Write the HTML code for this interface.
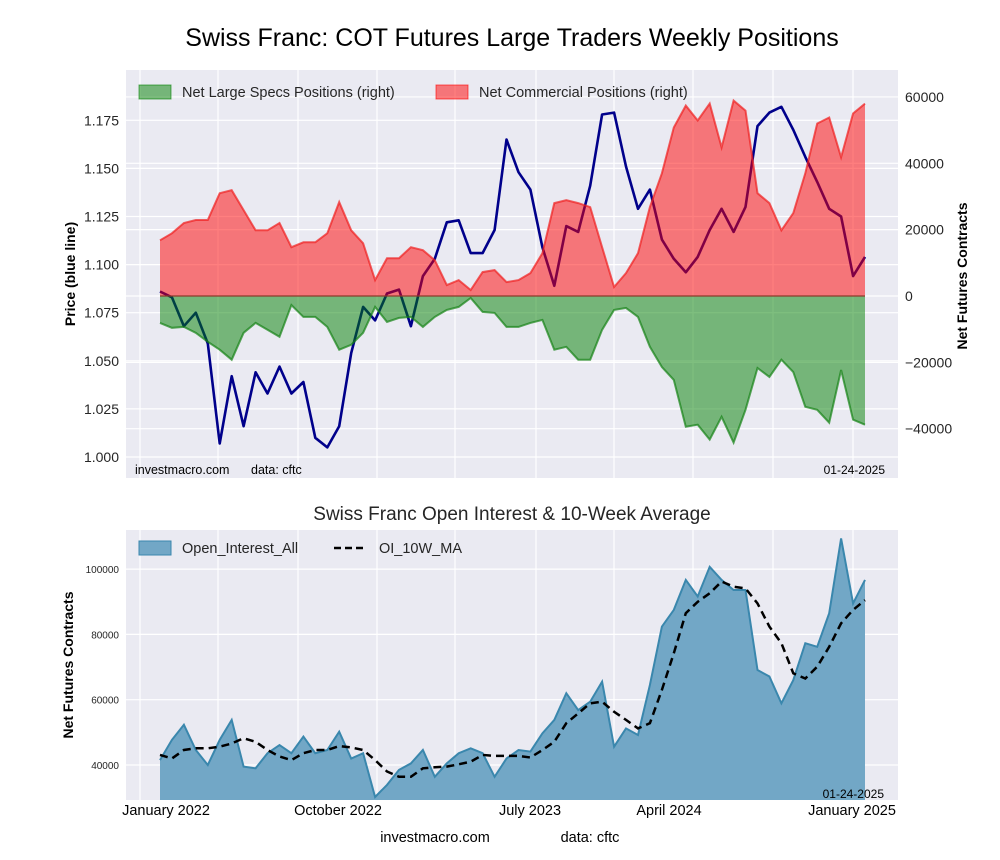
<!DOCTYPE html>
<html><head><meta charset="utf-8"><style>
body{margin:0;background:#fff;}
svg{display:block;font-family:"Liberation Sans",Arial,sans-serif;}
</style></head><body>
<svg id="chart" width="1000" height="860" viewBox="0 0 1000 860">
<rect x="0" y="0" width="1000" height="860" fill="#fff"/>
<text x="512" y="46" font-size="25" text-anchor="middle" fill="#000">Swiss Franc: COT Futures Large Traders Weekly Positions</text>
<rect x="126" y="70" width="772" height="408" fill="#eaeaf2"/>
<g id="topGrid"></g>
<g id="topMarks"></g>
<g id="topAxes"></g>
<g>
<rect x="139" y="85" width="32" height="14" fill="rgba(0,128,0,0.5)" stroke="rgba(0,128,0,0.6)"/>
<text x="182" y="97" font-size="14.5" fill="#262626">Net Large Specs Positions (right)</text>
<rect x="436" y="85" width="32" height="14" fill="rgba(255,0,0,0.5)" stroke="rgba(255,0,0,0.6)"/>
<text x="479" y="97" font-size="14.5" fill="#262626">Net Commercial Positions (right)</text>
</g>
<text x="135" y="474" font-size="12.5" fill="#000">investmacro.com</text>
<text x="251" y="474" font-size="12.5" fill="#000">data: cftc</text>
<text x="885" y="474" font-size="12" fill="#000" text-anchor="end">01-24-2025</text>
<text transform="translate(75,274) rotate(-90)" font-size="14" font-weight="bold" text-anchor="middle">Price (blue line)</text>
<text transform="translate(967,276) rotate(-90)" font-size="14" font-weight="bold" text-anchor="middle">Net Futures Contracts</text>

<text x="512" y="520" font-size="19" text-anchor="middle" fill="#262626">Swiss Franc Open Interest &amp; 10-Week Average</text>
<rect x="126" y="530" width="772" height="270" fill="#eaeaf2"/>
<g id="botGrid"></g>
<g id="botMarks"></g>
<g id="botAxes"></g>
<g>
<rect x="139" y="541" width="32" height="14" fill="#72a7c6" stroke="#3a87ad"/>
<text x="182" y="553" font-size="14.5" fill="#262626">Open_Interest_All</text>
<line x1="334" y1="548" x2="366" y2="548" stroke="#000" stroke-width="2.5" stroke-dasharray="7,4"/>
<text x="379" y="553" font-size="14.5" fill="#262626">OI_10W_MA</text>
</g>
<text x="884" y="798" font-size="12" fill="#000" text-anchor="end">01-24-2025</text>
<text transform="translate(73,665) rotate(-90)" font-size="14" font-weight="bold" text-anchor="middle">Net Futures Contracts</text>
<text x="435" y="842" font-size="14.5" text-anchor="middle">investmacro.com</text>
<text x="590" y="842" font-size="14.5" text-anchor="middle">data: cftc</text>
</svg>
<script>
const price=[1.086,1.083,1.068,1.075,1.059,1.007,1.042,1.016,1.044,1.033,1.047,1.033,1.039,1.010,1.005,1.016,1.054,1.078,1.071,1.085,1.087,1.068,1.094,1.103,1.122,1.123,1.106,1.106,1.118,1.165,
1.148,1.139,1.109,1.089,1.120,1.117,1.141,1.178,1.179,1.151,1.129,1.139,1.113,1.103,1.096,1.104,1.118,1.129,1.117,1.130,1.172,1.179,1.182,1.170,1.156,1.143,1.129,1.125,1.094,1.104];
const commercial=[16800,18900,22000,22900,22900,31000,31900,25900,19800,19800,22000,14700,16200,16200,18900,28300,19800,15900,4800,11400,11400,14700,13800,10800,3300,4800,1800,7200,7800,4200,
4800,6900,12900,28000,28900,28000,26800,14700,2700,6900,12900,26800,37000,50800,57400,52900,58000,44800,58900,55900,31000,28000,19800,25000,37000,52000,53800,41800,55000,58000];
const specs=[-8100,-9600,-9300,-11100,-13800,-16200,-19200,-11100,-8100,-10200,-12300,-2700,-6300,-6300,-9300,-16200,-14700,-11100,-3300,-7800,-6600,-6300,-9300,-6300,-4200,-3300,-600,-4800,-5100,-9300,
-9300,-8100,-7200,-16200,-15300,-19200,-19200,-10200,-4200,-3600,-6300,-15300,-21400,-25300,-39400,-38800,-43300,-36400,-44200,-34300,-21700,-24400,-19200,-22900,-33400,-34300,-38200,-22300,-37300,-38800];
const openInterest=[41500,47700,52300,44600,40000,47700,53800,39500,39000,43600,46100,43600,48700,43600,44600,50200,42000,43600,30200,33900,38500,40500,44600,36400,40500,43600,45100,43600,36400,42000,
44600,44100,49700,53800,62000,56800,59400,65500,45600,51200,49200,64500,82400,87500,96700,91600,100700,96700,93600,93600,69100,67100,58900,66000,77300,76200,86500,109400,89500,96700];
const oiMA=[43100,42000,44600,45100,45100,45600,46600,48200,47100,44600,42600,41500,43600,44600,44600,45800,45400,44600,41500,38000,36400,36400,39000,39300,39500,40200,41000,43100,42800,42800,
42800,42300,44600,47100,52800,55800,58900,59400,56300,53800,51200,52800,63000,74200,86500,90000,92600,96200,94600,94100,89500,82400,77300,68100,66500,70100,76200,83400,87500,90500];
const priceTicks=[1.000,1.025,1.050,1.075,1.100,1.125,1.150,1.175];
const netTicks=[-40000,-20000,0,20000,40000,60000];
const oiTicks=[40000,60000,80000,100000];
const xLabels=["January 2022","October 2022","July 2023","April 2024","January 2025"];

const NS="http://www.w3.org/2000/svg";
function mk(parent,tag,attrs){const e=document.createElementNS(NS,tag);for(const k in attrs)e.setAttribute(k,attrs[k]);document.getElementById(parent).appendChild(e);return e;}
const n=price.length;
const xS=i=>160+i*(865-160)/(n-1);
const yP=v=>457-(v-1.0)/0.025*48.1;
const yN=v=>296-v/20000*66.35;
const yO=v=>765-(v-40000)/20000*65.3;
const vGrid=[140,218,298,377,455,536,614,693,773,853];

vGrid.forEach(x=>{const l=mk('topGrid','line',{x1:x,x2:x,y1:70,y2:478,stroke:'#fff','stroke-width':1.2});

});
priceTicks.forEach(v=>{const y=yP(v);const l=mk('topGrid','line',{x1:126,x2:898,y1:y,y2:y,stroke:'#fff','stroke-width':1.2});


const t=mk('topAxes','text',{x:119,y:y+5,'font-size':14,'text-anchor':'end',fill:'#262626'});t.textContent=v.toFixed(3);

});
netTicks.forEach(v=>{const y=yN(v);const l=mk('topGrid','line',{x1:126,x2:898,y1:y,y2:y,stroke:'#fff','stroke-width':1.2});


const t=mk('topAxes','text',{x:905,y:y+5,'font-size':14,fill:'#262626'});t.textContent=v<0?'\u2212'+Math.abs(v):String(v);

});

let d=price.map((v,i)=>(i?'L':'M')+xS(i).toFixed(1)+','+yP(v).toFixed(1)).join(' ');
const pl=mk('topMarks','path',{d:d,fill:'none',stroke:'#00008b','stroke-width':2.6,'stroke-linejoin':'round'});


function area(arr,col,line,name){
 let p='M'+xS(0)+','+yN(0)+' '+arr.map((v,i)=>'L'+xS(i).toFixed(1)+','+yN(v).toFixed(1)).join(' ')+' L'+xS(n-1)+','+yN(0)+'Z';
 const a=mk('topMarks','path',{d:p,fill:col,stroke:'none'});
 
 
 const l=mk('topMarks','path',{d:arr.map((v,i)=>(i?'L':'M')+xS(i).toFixed(1)+','+yN(v).toFixed(1)).join(' '),fill:'none',stroke:line,'stroke-width':2});
 
 
}
area(commercial,'rgba(255,0,0,0.5)','rgba(240,30,30,0.7)','commercial');
area(specs,'rgba(0,128,0,0.5)','rgba(20,130,20,0.7)','specs');
const z=mk('topMarks','line',{x1:xS(0),x2:xS(n-1),y1:yN(0),y2:yN(0),stroke:'#8b3a2a','stroke-width':1.3});



vGrid.forEach(x=>{const l=mk('botGrid','line',{x1:x,x2:x,y1:530,y2:800,stroke:'#fff','stroke-width':1.2});

});
oiTicks.forEach(v=>{const y=yO(v);const l=mk('botGrid','line',{x1:126,x2:898,y1:y,y2:y,stroke:'#fff','stroke-width':1.2});


const t=mk('botAxes','text',{x:119,y:y+4,'font-size':10,'text-anchor':'end',fill:'#262626'});t.textContent=String(v);

});
const xLabX=[166,338,530,669,852];
xLabels.forEach((s,i)=>{const t=mk('botAxes','text',{x:xLabX[i],y:815,'font-size':14.5,'text-anchor':'middle',fill:'#000'});t.textContent=s;

});
let oa='M'+xS(0)+',800 '+openInterest.map((v,i)=>'L'+xS(i).toFixed(1)+','+yO(v).toFixed(1)).join(' ')+' L'+xS(n-1)+',800Z';
const oiA=mk('botMarks','path',{d:oa,fill:'#72a7c6',stroke:'none'});


const oiL=mk('botMarks','path',{d:openInterest.map((v,i)=>(i?'L':'M')+xS(i).toFixed(1)+','+yO(v).toFixed(1)).join(' '),fill:'none',stroke:'#3a87ad','stroke-width':2});


const maL=mk('botMarks','path',{d:oiMA.map((v,i)=>(i?'L':'M')+xS(i).toFixed(1)+','+yO(v).toFixed(1)).join(' '),fill:'none',stroke:'#000','stroke-width':2.5,'stroke-dasharray':'8,5'});


</script>
</body></html>
